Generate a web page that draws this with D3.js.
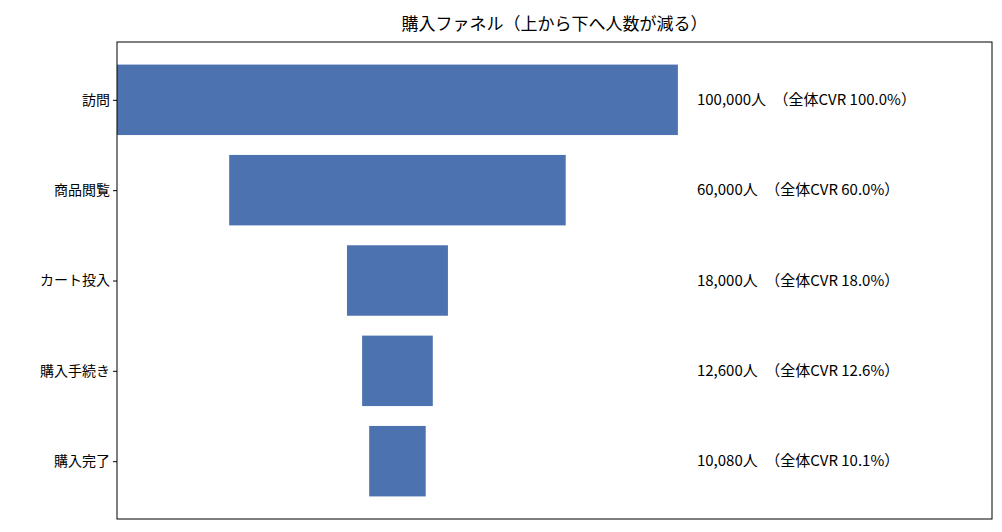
<!DOCTYPE html>
<html><head><meta charset="utf-8">
<script src="https://cdn.jsdelivr.net/npm/d3@7/dist/d3.min.js"></script>
<style>body{margin:0;background:#fff}text{font-family:"Noto Sans CJK JP","Noto Sans",sans-serif;fill:#000}</style>
</head><body><svg width="1002" height="532"></svg>
<script>
const categories = ["訪問","商品閲覧","カート投入","購入手続き","購入完了"];
const values = [100000,60000,18000,12600,10080];
const cvr = ["100.0%","60.0%","18.0%","12.6%","10.1%"];
const title = "購入ファネル（上から下へ人数が減る）";

const svg = d3.select("svg");
const L=117,R=992,T=42,B=519;
const maxV = d3.max(values);
const x = d3.scaleLinear().domain([-maxV/2, maxV*1.06]).range([L,R]);
const y = d3.scaleLinear().domain([-0.64, categories.length-1+0.64]).range([T,B]);
const h = (y(1)-y(0))*0.78;

svg.selectAll("rect.bar").data(values).join("rect")
  .attr("x",d=>x(-d/2)).attr("width",d=>x(d/2)-x(-d/2))
  .attr("y",(d,i)=>y(i)-h/2).attr("height",h).attr("fill","#4c72b0");

svg.selectAll("text.lab").data(values).join("text")
  .attr("x",x(maxV*0.534)).attr("y",(d,i)=>y(i)).attr("dy","0.35em")
  .attr("font-size",15)
  .text((d,i)=>d3.format(",")(d)+"人\u3000（全体CVR "+cvr[i]+"）");

const ax = svg.append("g").attr("transform",`translate(${L},0)`)
  .call(d3.axisLeft(y).tickValues(d3.range(categories.length)).tickFormat(i=>categories[i]).tickSize(4));
ax.select(".domain").remove();
ax.selectAll("text").attr("font-size",14).style("font-family",'"Noto Sans CJK JP",sans-serif');

svg.append("rect").attr("x",L).attr("y",T).attr("width",R-L).attr("height",B-T)
  .attr("fill","none").attr("stroke","#000").attr("stroke-width",1);

svg.append("text").attr("x",(L+R)/2).attr("y",30).attr("text-anchor","middle")
  .attr("font-size",17).text(title);
</script></body></html>
